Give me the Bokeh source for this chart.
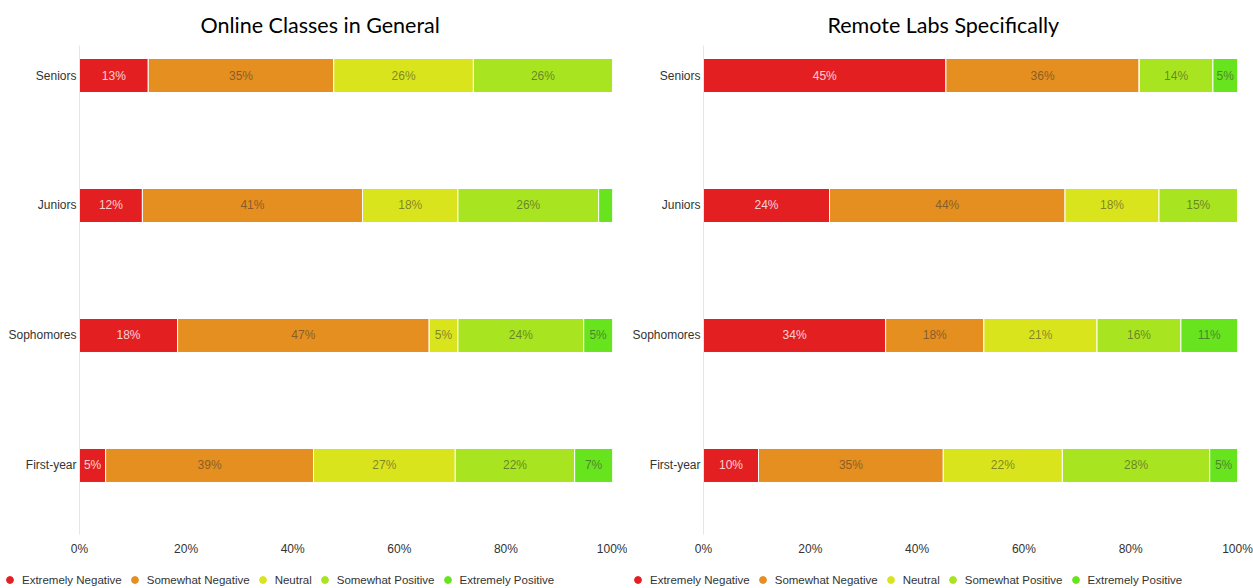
from bokeh.plotting import figure
from bokeh.models import ColumnDataSource, Range1d, FixedTicker, Legend, LegendItem
from bokeh.layouts import row, column
from bokeh.embed import file_html
from bokeh.resources import INLINE

# ---------------- data ----------------
categories = ["First-year", "Sophomores", "Juniors", "Seniors"]   # bottom -> top
series_names = ["Extremely Negative", "Somewhat Negative", "Neutral",
                "Somewhat Positive", "Extremely Positive"]
colors = ["#e41f21", "#e48f1f", "#d9e41d", "#a8e41f", "#68e41f"]
x_ticks = [0, 20, 40, 60, 80, 100]
x_tick_labels = ["0%", "20%", "40%", "60%", "80%", "100%"]

online_title = "Online Classes in General"
online_ext_neg = [4.9, 18.4, 11.8, 12.9]
online_som_neg = [39.0, 47.2, 41.3, 34.8]
online_neutral = [26.6, 5.4, 17.9, 26.2]
online_som_pos = [22.4, 23.6, 26.4, 26.1]
online_ext_pos = [7.1, 5.4, 2.6, 0.0]

labs_title = "Remote Labs Specifically"
labs_ext_neg = [10.3, 34.1, 23.6, 45.4]
labs_som_neg = [34.6, 18.4, 44.1, 36.2]
labs_neutral = [22.3, 21.2, 17.6, 0.0]
labs_som_pos = [27.6, 15.7, 14.7, 13.8]
labs_ext_pos = [5.2, 10.6, 0.0, 4.6]

FONT = "Liberation Sans"
KEYS = ["s0", "s1", "s2", "s3", "s4"]


def make_fig(title, series, width, border_left, border_right, title_offset):
    p = figure(width=width, height=570, output_backend="svg", toolbar_location=None,
               x_range=Range1d(0, 100), y_range=Range1d(-0.531, 3.2308),
               min_border_left=border_left, min_border_right=border_right,
               min_border_top=45, min_border_bottom=36)
    p.outline_line_color = None
    p.xgrid.visible = False
    p.ygrid.visible = False

    p.title.text = title
    p.title.align = "left"
    p.title.offset = title_offset
    p.title.text_font = "Lato"
    p.title.text_font_size = "21.5px"
    p.title.text_font_style = "normal"
    p.title.text_color = "#000000"
    p.title.standoff = 16

    ypos = list(range(len(categories)))
    data = {"y": ypos}
    for k, s in zip(KEYS, series):
        data[k] = s
    src = ColumnDataSource(data)
    p.hbar_stack(KEYS, y="y", height=0.2615, color=colors, source=src,
                 line_color="white", line_width=1)

    # segment labels
    tx, ty, tt, tc, ta = [], [], [], [], []
    for i, yv in enumerate(ypos):
        left = 0.0
        for j, s in enumerate(series):
            v = s[i]
            if v >= 4:
                tx.append(left + v / 2)
                ty.append(yv)
                tt.append("%d%%" % round(v))
                tc.append("#ffffff" if j == 0 else "#333333")
                ta.append(0.8 if j == 0 else 0.55)
            left += v
    tsrc = ColumnDataSource(dict(x=tx, y=ty, t=tt, c=tc, a=ta))
    p.text(x="x", y="y", text="t", text_color="c", text_alpha="a", source=tsrc,
           text_align="center", text_baseline="middle",
           text_font_size="12px", text_font={"value": FONT})

    # axes
    p.xaxis.ticker = FixedTicker(ticks=x_ticks)
    p.xaxis.major_label_overrides = {t: l for t, l in zip(x_ticks, x_tick_labels)}
    p.xaxis.axis_line_color = None
    p.xaxis.major_tick_line_color = None
    p.xaxis.minor_tick_line_color = None
    p.xaxis.major_tick_out = 0
    p.xaxis.major_tick_in = 0
    p.xaxis.major_label_standoff = 7
    p.xaxis.major_label_text_font = FONT
    p.xaxis.major_label_text_font_size = "12px"
    p.xaxis.major_label_text_color = "#333333"

    p.yaxis.ticker = FixedTicker(ticks=ypos)
    p.yaxis.major_label_overrides = {i: c for i, c in enumerate(categories)}
    p.yaxis.axis_line_color = "#e6e6e6"
    p.yaxis.major_tick_line_color = None
    p.yaxis.minor_tick_line_color = None
    p.yaxis.major_tick_out = 0
    p.yaxis.major_tick_in = 0
    p.yaxis.major_label_standoff = 3
    p.yaxis.major_label_text_font = FONT
    p.yaxis.major_label_text_font_size = "12px"
    p.yaxis.major_label_text_color = "#333333"
    return p


# one strip below both charts that holds the two legends
lp = figure(width=1253, height=18, output_backend="svg", toolbar_location=None,
            x_range=Range1d(0, 1), y_range=Range1d(0, 1),
            x_axis_type=None, y_axis_type=None,
            min_border_left=0, min_border_right=0, min_border_top=0, min_border_bottom=0)
lp.outline_line_color = None
lp.xgrid.visible = False
lp.ygrid.visible = False


def add_legend(legend_x):
    items = []
    for name, col in zip(series_names, colors):
        # dummy point outside the visible range: only used for the legend marker
        r = lp.scatter(x=[-5], y=[-5], marker="circle", size=7, fill_color=col, line_color=col)
        items.append(LegendItem(label=name, renderers=[r]))
    leg = Legend(items=items, orientation="horizontal", location=(legend_x, 0),
                 glyph_width=17, glyph_height=17, label_height=17, label_standoff=4,
                 spacing=4, padding=0, margin=0, border_line_color=None,
                 background_fill_alpha=0, label_text_font=FONT,
                 label_text_font_size="11.5px", label_text_color="#333333")
    lp.add_layout(leg, "center")


add_legend(1)
add_legend(629)

p1 = make_fig(online_title,
              [online_ext_neg, online_som_neg, online_neutral, online_som_pos, online_ext_pos],
              627, 79, 15, 121)
p2 = make_fig(labs_title,
              [labs_ext_neg, labs_som_neg, labs_neutral, labs_som_pos, labs_ext_pos],
              626, 76, 16, 124)

layout = column(row(p1, p2), lp)
open("out.html", "w").write(file_html(layout, INLINE))
